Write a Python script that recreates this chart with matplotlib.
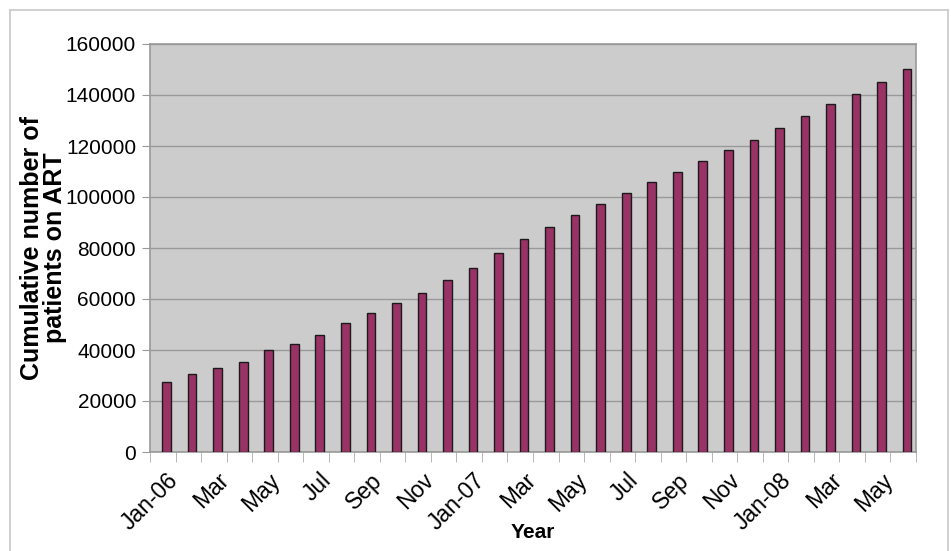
import numpy as np
import matplotlib.pyplot as plt
from matplotlib.lines import Line2D

plt.rcParams["font.family"] = ["Liberation Sans", "DejaVu Sans"]

# monthly cumulative counts, Jan-06 .. Jun-08
months = ["Jan-06", "Feb", "Mar", "Apr", "May", "Jun", "Jul", "Aug", "Sep", "Oct", "Nov", "Dec",
          "Jan-07", "Feb", "Mar", "Apr", "May", "Jun", "Jul", "Aug", "Sep", "Oct", "Nov", "Dec",
          "Jan-08", "Feb", "Mar", "Apr", "May", "Jun"]
patients = [27500, 30600, 32800, 35300, 40000, 42400, 45900, 50500, 54500, 58300, 62400, 67500,
            72300, 78000, 83500, 88200, 92800, 97300, 101500, 106000, 110000, 114000, 118500, 122500,
            127000, 131700, 136300, 140300, 145000, 150200]
yticks = [0, 20000, 40000, 60000, 80000, 100000, 120000, 140000, 160000]

fig = plt.figure(figsize=(9.51, 5.51), dpi=100)
ax = fig.add_axes([150 / 951, 99 / 551, 766 / 951, 408 / 551])

x = np.arange(len(months))
ax.set_facecolor("#cccccc")
# bars sit a little right of the category centre, as in the original
ax.bar(x + 0.15, patients, width=0.34, color="#993366", edgecolor="#1a1a1a", linewidth=1.0, zorder=3)

ax.set_xlim(-0.5, len(months) - 0.5)
ax.set_ylim(0, 160000)
ax.set_yticks(yticks)
ax.set_yticklabels([str(v) for v in yticks], fontsize=15)
ax.yaxis.grid(True, color="#999999", linewidth=1.0, zorder=0)
ax.tick_params(axis="y", length=6, color="#999999", pad=4)

# labels every other month, ticks between categories
ax.set_xticks(x[::2] + 0.15)
ax.set_xticklabels(months[::2], rotation=45, ha="right", rotation_mode="anchor", fontsize=16.5)
ax.tick_params(axis="x", length=0, pad=12)
ax.set_xticks(np.arange(len(months) + 1) - 0.5, minor=True)
ax.tick_params(axis="x", which="minor", length=7, color="#aaaaaa")

for side in ["top", "right", "left", "bottom"]:
    ax.spines[side].set_color("#999999")
    ax.spines[side].set_linewidth(1.2)

ax.set_ylabel("Cumulative number of\npatients on ART", fontsize=18, fontweight="bold", linespacing=0.95)
ax.yaxis.set_label_coords(-0.108, 0.5)
ax.set_xlabel("Year", fontsize=15, fontweight="bold")
ax.xaxis.set_label_coords(0.5, -0.175)

# outer chart frame
frame_color = "#c8c8c8"
fig.add_artist(Line2D([10 / 951, 10 / 951], [0, 1 - 10 / 551], transform=fig.transFigure, color=frame_color, lw=1.2))
fig.add_artist(Line2D([10 / 951, 948 / 951], [1 - 10 / 551, 1 - 10 / 551], transform=fig.transFigure, color=frame_color, lw=1.2))
fig.add_artist(Line2D([948 / 951, 948 / 951], [0, 1 - 10 / 551], transform=fig.transFigure, color=frame_color, lw=1.2))

fig.savefig("out.png", dpi=100)
